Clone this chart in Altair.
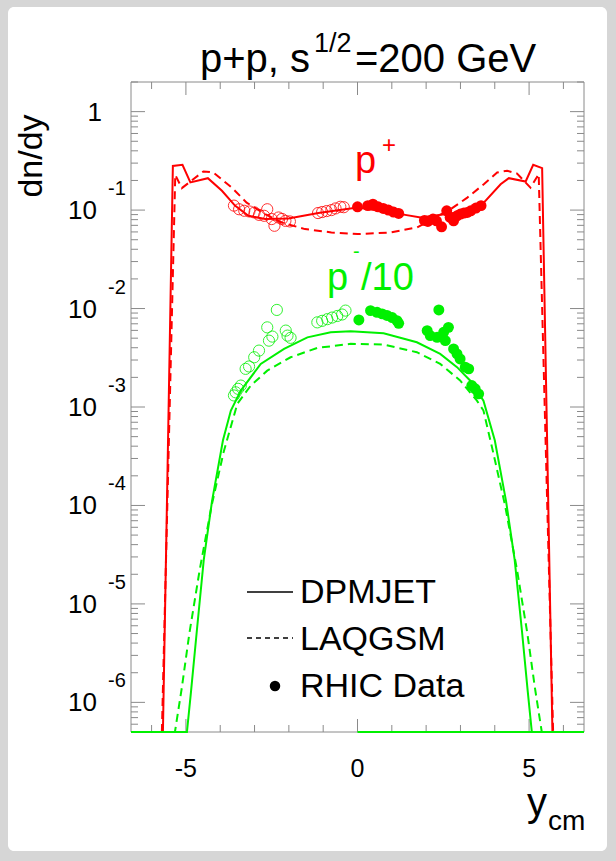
import altair as alt
import pandas as pd

# ---------------- data ----------------
# p+ , DPMJET (solid red)
red_dpm_x = [-5.67, -5.38, -5.10, -4.87, -4.36, -3.95, -3.57, -3.18, -2.69, -2.01, -1.14, 0.0,
             1.26, 1.84, 2.91, 3.68, 4.17, 4.41, 4.90, 5.12, 5.38, 5.68]
red_dpm_y = [1e-8, 0.281, 0.288, 0.191, 0.211, 0.157, 0.111, 0.0875, 0.0811, 0.0822, 0.0933, 0.106,
             0.0910, 0.0841, 0.0946, 0.119, 0.183, 0.211, 0.195, 0.288, 0.267, 1e-8]
# p+ , LAQGSM (dashed red)
red_laq_x = [-5.70, -5.31, -5.12, -4.49, -4.20, -3.66, -3.23, -2.69, -2.21, -1.53, -0.76, 0.0,
             0.97, 1.74, 2.71, 3.20, 3.68, 4.07, 4.36, 4.65, 5.04, 5.28, 5.70]
red_laq_y = [1e-8, 0.228, 0.167, 0.247, 0.241, 0.169, 0.119, 0.091, 0.0748, 0.0641, 0.0593, 0.0571,
             0.0593, 0.0667, 0.102, 0.134, 0.183, 0.241, 0.251, 0.235, 0.169, 0.232, 1e-8]
# p+ , RHIC data (filled, y>0) and reflected (open, y<0)
red_fill_x = [0.0, 0.3, 0.45, 0.6, 0.75, 0.9, 1.05, 1.2, 1.95, 2.05, 2.2, 2.3, 2.45, 2.6, 2.7, 2.8,
              2.9, 3.0, 3.1, 3.2, 3.3, 3.45, 3.6]
red_fill_y = [0.108, 0.111, 0.115, 0.108, 0.104, 0.100, 0.0955, 0.0925, 0.0785, 0.0766, 0.0811,
              0.0778, 0.0676, 0.0984, 0.0841, 0.0778, 0.0875, 0.0912, 0.0933, 0.0946, 0.0984,
              0.105, 0.111]
red_open_x = [-3.6, -3.45, -3.3, -3.15, -3.0, -2.87, -2.72, -2.63, -2.5, -2.42, -2.3, -2.2, -2.1,
              -1.97, -1.15, -1.03, -0.9, -0.76, -0.64, -0.5, -0.4]
red_open_y = [0.111, 0.102, 0.0984, 0.0968, 0.0946, 0.0895, 0.0875, 0.102, 0.0811, 0.0693, 0.0841,
              0.0813, 0.0778, 0.0767, 0.0933, 0.0955, 0.0977, 0.100, 0.104, 0.108, 0.107]

# pbar/10 , DPMJET (solid green); values below the axis minimum sit on the lower frame
grn_dpm_x = [-6.6, -5.05, -4.97, -4.85, -4.68, -4.48, -4.24, -3.92, -3.69, -3.40, -2.82, -2.14, -1.46,
             -0.78, -0.20, 0.76, 1.73, 2.41, 2.90, 3.28, 3.67, 4.0, 4.33, 4.58, 4.79, 4.96, 5.08,
             5.15, 6.6]
grn_dpm_y = [1e-9, 1e-9, 5.0e-7, 1.3e-6, 5.4e-6, 2.8e-5, 1.1e-4, 4.6e-4, 9.2e-4, 1.47e-3, 2.74e-3,
             3.89e-3, 5.10e-3, 5.74e-3, 5.87e-3, 5.60e-3, 4.54e-3, 3.46e-3, 2.54e-3, 1.86e-3,
             1.16e-3, 4.6e-4, 1.1e-4, 2.8e-5, 5.4e-6, 1.3e-6, 5.0e-7, 1e-9, 1e-9]
# pbar/10 , LAQGSM (dashed green)
grn_laq_x = [-5.40, -5.32, -5.12, -4.9, -4.6, -4.25, -3.9, -3.50, -3.11, -2.63, -1.95, -1.17, -0.20,
             0.76, 1.73, 2.41, 2.99, 3.48, 3.67, 3.95, 4.3, 4.65, 4.95, 5.17, 5.37, 5.45]
grn_laq_y = [1e-9, 5.0e-7, 1.4e-6, 5.0e-6, 2.2e-5, 1.0e-4, 3.5e-4, 1.08e-3, 1.65e-3, 2.34e-3,
             3.20e-3, 3.98e-3, 4.38e-3, 4.31e-3, 3.60e-3, 2.74e-3, 1.86e-3, 1.16e-3, 9.2e-4,
             3.5e-4, 1.0e-4, 2.2e-5, 5.0e-6, 1.4e-6, 5.0e-7, 1e-9]
# green segment lying below the axis minimum (drawn on the lower frame, y >= 0)
grn_floor_x = [0.0, 6.6]
grn_floor_y = [1e-9, 1e-9]
grn_fill_x = [0.04, 0.38, 0.57, 0.72, 0.86, 1.01, 1.15, 1.20, 2.37, 2.03, 2.12, 2.32, 2.51, 2.65,
              2.56, 2.80, 2.90, 2.99, 3.14, 3.24, 3.33, 3.43, 3.53]
grn_fill_y = [7.66e-3, 9.53e-3, 9.16e-3, 8.83e-3, 8.5e-3, 8.1e-3, 7.53e-3, 7.08e-3, 9.68e-3,
              5.97e-3, 5.31e-3, 5.11e-3, 5.74e-3, 6.44e-3, 4.72e-3, 3.89e-3, 3.46e-3, 3.08e-3,
              2.54e-3, 2.44e-3, 1.65e-3, 1.53e-3, 1.36e-3]
grn_open_x = [-2.35, -2.63, -2.48, -2.58, -2.09, -2.04, -1.95, -2.87, -3.01, -3.16, -3.26, -3.40,
              -3.48, -3.55, -3.60, -1.17, -1.03, -0.88, -0.74, -0.59, -0.45, -0.35]
grn_open_y = [9.68e-3, 6.44e-3, 5.19e-3, 4.72e-3, 5.97e-3, 5.31e-3, 5.04e-3, 3.74e-3, 3.20e-3,
              2.58e-3, 2.44e-3, 1.65e-3, 1.53e-3, 1.41e-3, 1.31e-3, 7.24e-3, 7.5e-3, 7.8e-3,
              8.1e-3, 8.4e-3, 8.7e-3, 9.53e-3]

x_ticks = [-6, -5, -4, -3, -2, -1, 0, 1, 2, 3, 4, 5, 6]
x_major = [-5, 0, 5]
x_labels = ["-5", "0", "5"]
y_major = [1e-6, 1e-5, 1e-4, 1e-3, 1e-2, 1e-1, 1.0]
y_exps = ["-6", "-5", "-4", "-3", "-2", "-1", ""]
y_minor = [k * 10.0 ** n for n in range(-7, 1) for k in range(2, 10) if 5e-7 <= k * 10.0 ** n <= 2.0]

# ---------------- layout ----------------
W, H = 453, 650
FONT = "Liberation Sans"
RED, GREEN, FRAME = "#ff0000", "#00f000", "#8a8a8a"

xs = alt.Scale(domain=[-6.6, 6.6], nice=False, zero=False)
ys = alt.Scale(type="log", domain=[5e-7, 2.0], nice=False, clamp=True)


def curve(xv, yv, color, dash=None):
    df = pd.DataFrame({"x": xv, "y": yv, "i": range(len(xv))})
    kw = dict(color=color, strokeWidth=2)
    if dash:
        kw["strokeDash"] = dash
    return alt.Chart(df).mark_line(**kw).encode(
        x=alt.X("x:Q", scale=xs, axis=None),
        y=alt.Y("y:Q", scale=ys, axis=None),
        order="i:Q")


def dots(xv, yv, color, filled):
    df = pd.DataFrame({"x": xv, "y": yv})
    if filled:
        m = alt.Chart(df).mark_circle(color=color, size=120, opacity=1)
    else:
        m = alt.Chart(df).mark_point(shape="circle", color=color, size=125, strokeWidth=1,
                                     filled=False, opacity=0.8)
    return m.encode(x=alt.X("x:Q", scale=xs, axis=None), y=alt.Y("y:Q", scale=ys, axis=None))


one = pd.DataFrame({"a": [0]})


def txt(s, x, y, size, color="black", align="left", baseline="alphabetic", angle=0):
    return alt.Chart(one).mark_text(text=s, font=FONT, fontSize=size, color=color, align=align,
                                    baseline=baseline, angle=angle).encode(
        x=alt.value(x), y=alt.value(y))


panel = alt.Chart(one).mark_rect(color="white", cornerRadius=6).encode(
    x=alt.value(-123), x2=alt.value(476), y=alt.value(-75), y2=alt.value(769))
frame = alt.Chart(one).mark_rect(fill=None, stroke=FRAME, strokeWidth=1).encode(
    x=alt.value(0), x2=alt.value(W), y=alt.value(0), y2=alt.value(H))

# ticks (inside frame on all 4 sides)
xt = pd.DataFrame({"x": x_ticks, "L": [13 if v in x_major else 7 for v in x_ticks]})
tick_layers = []
for L in (13, 7):
    d = xt[xt.L == L]
    tick_layers.append(alt.Chart(d).mark_rule(color=FRAME).encode(
        x=alt.X("x:Q", scale=xs, axis=None), y=alt.value(H), y2=alt.value(H - L)))
    tick_layers.append(alt.Chart(d).mark_rule(color=FRAME).encode(
        x=alt.X("x:Q", scale=xs, axis=None), y=alt.value(0), y2=alt.value(L)))
for vals, L in ((y_major, 14), (y_minor, 7)):
    d = pd.DataFrame({"y": vals})
    tick_layers.append(alt.Chart(d).mark_rule(color=FRAME).encode(
        y=alt.Y("y:Q", scale=ys, axis=None), x=alt.value(0), x2=alt.value(L)))
    tick_layers.append(alt.Chart(d).mark_rule(color=FRAME).encode(
        y=alt.Y("y:Q", scale=ys, axis=None), x=alt.value(W), x2=alt.value(W - L)))

# tick labels
xl = pd.DataFrame({"x": x_major, "t": x_labels})
xlab = alt.Chart(xl).mark_text(font=FONT, fontSize=25, baseline="middle", align="center").encode(
    x=alt.X("x:Q", scale=xs, axis=None), y=alt.value(H + 37), text="t:N")
yl = pd.DataFrame({"y": y_major[:-1], "e": y_exps[:-1]})
ybase = alt.Chart(yl).mark_text(font=FONT, fontSize=26, baseline="middle", align="right",
                                text="10", dy=1).encode(
    y=alt.Y("y:Q", scale=ys, axis=None), x=alt.value(-34))
yexp = alt.Chart(yl).mark_text(font=FONT, fontSize=20, baseline="middle", align="left",
                               dy=-21).encode(
    y=alt.Y("y:Q", scale=ys, axis=None), x=alt.value(-23), text="e:N")
yone = alt.Chart(pd.DataFrame({"y": [1.0]})).mark_text(
    font=FONT, fontSize=26, baseline="middle", align="right", text="1", dy=1).encode(
    y=alt.Y("y:Q", scale=ys, axis=None), x=alt.value(-29))

texts = [
    # title p+p, s^{1/2}=200 GeV
    txt("p+p, s", 69, -10, 40),
    txt("1/2", 183, -30, 27),
    txt("=200 GeV", 224, -10, 40),
    # axis titles
    txt("dn/dy", -99, 74, 34, align="center", baseline="middle", angle=270),
    txt("y", 396, H + 84, 40),
    txt("cm", 417, H + 98, 28),
    # series labels
    txt("p", 224, 91, 38, RED),
    txt("+", 251, 64, 24, RED, baseline="middle"),
    txt("p", 196, 208, 38, GREEN),
    txt("-", 222, 170, 20, GREEN, baseline="middle"),
    txt("/10", 230, 208, 38, GREEN),
    # legend
    txt("DPMJET", 169, 521, 34),
    txt("LAQGSM", 169, 568, 34),
    txt("RHIC Data", 169, 615, 34),
]
leg_solid = alt.Chart(one).mark_rule(color="black", strokeWidth=1.5).encode(
    x=alt.value(116), x2=alt.value(162), y=alt.value(510))
leg_dash = alt.Chart(one).mark_rule(color="black", strokeWidth=1.5, strokeDash=[5, 4]).encode(
    x=alt.value(116), x2=alt.value(162), y=alt.value(556))
leg_dot = alt.Chart(one).mark_circle(color="black", size=110, opacity=1).encode(
    x=alt.value(144), y=alt.value(604))

chart = alt.layer(
    panel,
    *tick_layers,
    frame,
    curve(red_dpm_x, red_dpm_y, RED),
    curve(red_laq_x, red_laq_y, RED, [8, 5]),
    curve(grn_floor_x, grn_floor_y, GREEN),
    curve(grn_dpm_x, grn_dpm_y, GREEN),
    curve(grn_laq_x, grn_laq_y, GREEN, [8, 5]),
    dots(red_open_x, red_open_y, RED, False),
    dots(red_fill_x, red_fill_y, RED, True),
    dots(grn_open_x, grn_open_y, GREEN, False),
    dots(grn_fill_x, grn_fill_y, GREEN, True),
    xlab, ybase, yexp, yone,
    *texts,
    leg_solid, leg_dash, leg_dot,
).properties(
    width=W, height=H,
    autosize=alt.AutoSizeParams(type="none"),
    padding={"left": 131, "top": 82, "right": 32, "bottom": 129},
    background="#d6d6d6",
).configure_view(stroke=None)

chart.save("out.html", embed_options={"renderer": "svg", "actions": False})
